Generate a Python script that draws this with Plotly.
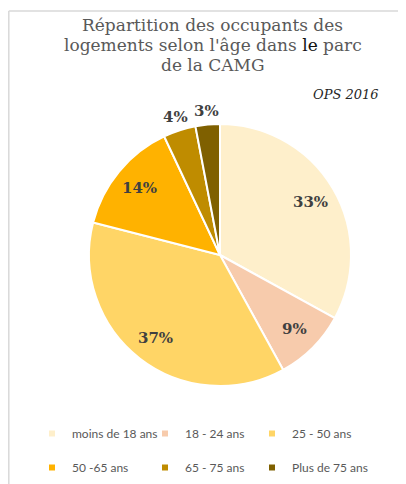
import math
import plotly.graph_objects as go

# donnees
tranches = ["moins de 18 ans", "18 - 24 ans", "25 - 50 ans", "50 -65 ans", "65 - 75 ans", "Plus de 75 ans"]
parts = [33, 9, 37, 14, 4, 3]
couleurs = ["#FEEFCB", "#F7CBAC", "#FFD566", "#FFB200", "#BF8C00", "#7F6000"]
# les deux petites parts ont leur etiquette au-dessus du camembert
dehors = [False, False, False, False, True, True]

# la page html a une marge de 8px autour de la figure
M = 8
W, H = 406 - M, 484 - M


def px(x):
    return (x - M) / W


def py(y):
    return 1 - (y - M) / H


cx, cy, r = 220, 255, 131  # centre et rayon du camembert (px dans la page)

pie = go.Pie(
    labels=tranches,
    values=parts,
    sort=False,
    direction="clockwise",
    rotation=0,
    marker=dict(colors=couleurs, line=dict(color="white", width=2)),
    textinfo="none",
    domain=dict(x=[px(cx - r), px(cx + r)], y=[py(cy + r), py(cy - r)]),
    hoverinfo="label+percent",
    showlegend=False,
)

fig = go.Figure(data=[pie])

# etiquettes des parts, placees sur l'angle median de chaque part
annots = []
total = sum(parts)
cum = 0
for v, d in zip(parts, dehors):
    theta = math.radians(360 * (cum + v / 2) / total)
    cum += v
    dist = r + 14 if d else 0.8 * r
    lx = cx + dist * math.sin(theta)
    ly = cy - dist * math.cos(theta)
    annots.append(dict(
        text="<b>%d%%</b>" % v, x=px(lx), y=py(ly), xref="paper", yref="paper",
        xanchor="center", yanchor="middle", showarrow=False,
        font=dict(family="DejaVu Serif", size=15, color="#404040"),
    ))

# legende : 3 colonnes de 2 entrees
colonnes_x = [32, 145, 252]
for i, (t, c) in enumerate(zip(tranches, couleurs)):
    col = i % 3
    fig.add_trace(go.Scatter(
        x=[None], y=[None], mode="markers", name=t,
        marker=dict(symbol="square", size=6, color=c),
        legend="legend" if col == 0 else "legend%d" % (col + 1),
        legendgroup=t,
        showlegend=True,
    ))

legs = {}
for k, x0 in enumerate(colonnes_x):
    legs["legend" if k == 0 else "legend%d" % (k + 1)] = dict(
        orientation="v",
        x=px(x0),
        xanchor="left",
        y=py(419),
        yanchor="top",
        tracegroupgap=15,
        font=dict(family="Lato", size=12, color="#595959"),
        bgcolor="rgba(0,0,0,0)",
    )

# titre, ligne par ligne
titre = ["Répartition des occupants des",
         "logements selon l'âge dans <span style='color:#111111'>le</span> parc",
         "de la CAMG"]
for ligne, yl in zip(titre, [25, 45, 65]):
    annots.append(dict(
        text=ligne, x=px(213), y=py(yl), xref="paper", yref="paper",
        xanchor="center", yanchor="middle", showarrow=False,
        font=dict(family="DejaVu Serif", size=17, color="#595959"),
    ))

annots.append(dict(
    text="<i>OPS 2016</i>",
    x=px(346), y=py(94), xref="paper", yref="paper",
    xanchor="center", yanchor="middle", showarrow=False,
    font=dict(family="DejaVu Serif", size=13, color="#262626"),
))

fig.update_layout(
    width=W,
    height=H,
    margin=dict(l=0, r=0, t=0, b=0),
    paper_bgcolor="white",
    plot_bgcolor="white",
    xaxis=dict(visible=False),
    yaxis=dict(visible=False),
    annotations=annots,
    shapes=[
        dict(type="line", xref="paper", yref="paper", x0=0.002, x1=0.002, y0=0, y1=py(11),
             line=dict(color="#D9D9D9", width=1.5)),
        dict(type="line", xref="paper", yref="paper", x0=0.002, x1=1, y0=py(11), y1=py(11),
             line=dict(color="#D9D9D9", width=1.5)),
    ],
    **legs,
)

fig.write_html("out.html")
